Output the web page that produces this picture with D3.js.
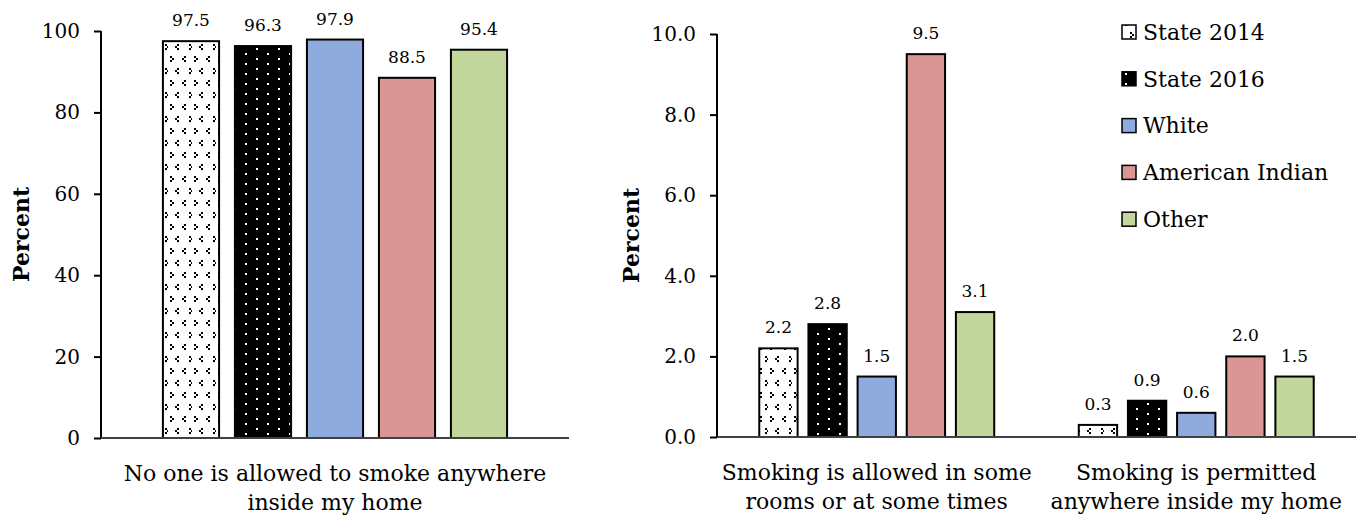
<!DOCTYPE html>
<html><head><meta charset="utf-8">
<script src="https://cdn.jsdelivr.net/npm/d3@7"></script>
<style>
html,body{margin:0;padding:0;background:#fff;}
svg text{font-family:"DejaVu Serif","Liberation Serif",serif;fill:#000;}
</style></head>
<body>
<svg id="c" width="1357" height="519"></svg>
<script>
const series = ["State 2014","State 2016","White","American Indian","Other"];
const leftCategories = [["No one is allowed to smoke anywhere","inside my home"]];
const leftValues = [[97.5, 96.3, 97.9, 88.5, 95.4]];
const rightCategories = [["Smoking is allowed in some","rooms or at some times"],["Smoking is permitted","anywhere inside my home"]];
const rightValues = [[2.2, 2.8, 1.5, 9.5, 3.1],[0.3, 0.9, 0.6, 2.0, 1.5]];
const leftTicks = [0,20,40,60,80,100];
const rightTicks = [0,2,4,6,8,10];
const colors = ["url(#p2014)","url(#p2016)","#8faadc","#d99694","#c3d69b"];

const svg = d3.select("#c");
const defs = svg.append("defs");
// State 2014 pattern: white with black dot chevrons
const p1 = defs.append("pattern").attr("id","p2014").attr("patternUnits","userSpaceOnUse")
  .attr("width",24).attr("height",24);
p1.append("rect").attr("width",24).attr("height",24).attr("fill","#fff");
[[2,8],[4,10],[2,12],[16,8],[14,10],[16,12],[9,0],[21,0],[9,20],[7,22],[21,20],[23,22]].forEach(([x,y])=>
  p1.append("rect").attr("x",x).attr("y",y).attr("width",2).attr("height",2).attr("fill","#000"));
// State 2016 pattern: black with white dots
const p2 = defs.append("pattern").attr("id","p2016").attr("patternUnits","userSpaceOnUse")
  .attr("width",22).attr("height",20);
p2.append("rect").attr("width",22).attr("height",20).attr("fill","#000");
[[3,3],[14,8],[3,13],[14,18]].forEach(([x,y])=>
  p2.append("rect").attr("x",x).attr("y",y).attr("width",2).attr("height",2).attr("fill","#fff"));

function panel(cfg){
  const g = svg.append("g");
  const y = d3.scaleLinear().domain([0, cfg.ticks[cfg.ticks.length-1]]).range([cfg.bottom, cfg.top]);
  const x0 = d3.scaleBand().domain(d3.range(cfg.cats.length)).range([cfg.left, cfg.right]);
  const x1 = d3.scaleBand().domain(series).range([0, x0.bandwidth()]).paddingInner(0.22).paddingOuter(0.86);

  cfg.values.forEach((vals, ci) => {
    vals.forEach((v, si) => {
      const bx = x0(ci) + x1(series[si]);
      g.append("rect").attr("x", bx).attr("y", y(v)).attr("width", x1.bandwidth())
        .attr("height", y(0) - y(v)).attr("fill", colors[si]).attr("stroke","#000").attr("stroke-width",2);
      g.append("text").attr("x", bx + x1.bandwidth()/2).attr("y", y(v) - 15)
        .attr("text-anchor","middle").attr("font-size",17).text(cfg.fmt(v));
    });
    const t = g.append("text").attr("x", x0(ci)+x0.bandwidth()/2).attr("y", cfg.bottom+43)
      .attr("text-anchor","middle").attr("font-size",22);
    cfg.cats[ci].forEach((line, li) => t.append("tspan").attr("x", x0(ci)+x0.bandwidth()/2).attr("dy", li ? 29 : 0).text(line));
  });

  const ya = d3.axisLeft(y).tickValues(cfg.ticks).tickSize(7).tickPadding(14).tickFormat(cfg.tickFmt);
  const ag = g.append("g").attr("transform",`translate(${cfg.left},0)`).call(ya);
  ag.select(".domain").attr("stroke","#000").attr("stroke-width",2).attr("d",`M0,${cfg.top}V${cfg.bottom}`);
  ag.selectAll(".tick line").attr("stroke","#000").attr("stroke-width",2);
  ag.selectAll(".tick text").attr("font-size",20).attr("font-family","DejaVu Serif").attr("fill","#000");
  g.append("line").attr("x1",cfg.left).attr("x2",cfg.right).attr("y1",y(0)).attr("y2",y(0))
    .attr("stroke","#404040").attr("stroke-width",2);
  g.append("text").attr("transform",`translate(${cfg.labelX},${(cfg.top+cfg.bottom)/2}) rotate(-90)`)
    .attr("text-anchor","middle").attr("font-size",22).attr("font-weight","bold").text("Percent");
}

panel({left:101,right:569,top:31,bottom:438,ticks:leftTicks,values:leftValues,cats:leftCategories,
  fmt:d3.format(".1f"),tickFmt:d3.format("d"),labelX:29});
panel({left:717,right:1356,top:34,bottom:437,ticks:rightTicks,values:rightValues,cats:rightCategories,
  fmt:d3.format(".1f"),tickFmt:d3.format(".1f"),labelX:639});

// legend
const lg = svg.append("g");
series.forEach((s,i)=>{
  const yy = 32 + i*46.8;
  lg.append("rect").attr("x",1122).attr("y",yy-7).attr("width",14).attr("height",14)
    .attr("fill",colors[i]).attr("stroke","#000").attr("stroke-width",1.5);
  lg.append("text").attr("x",1143).attr("y",yy).attr("dy","0.35em").attr("font-size",22).text(s);
});
</script>
</body></html>
